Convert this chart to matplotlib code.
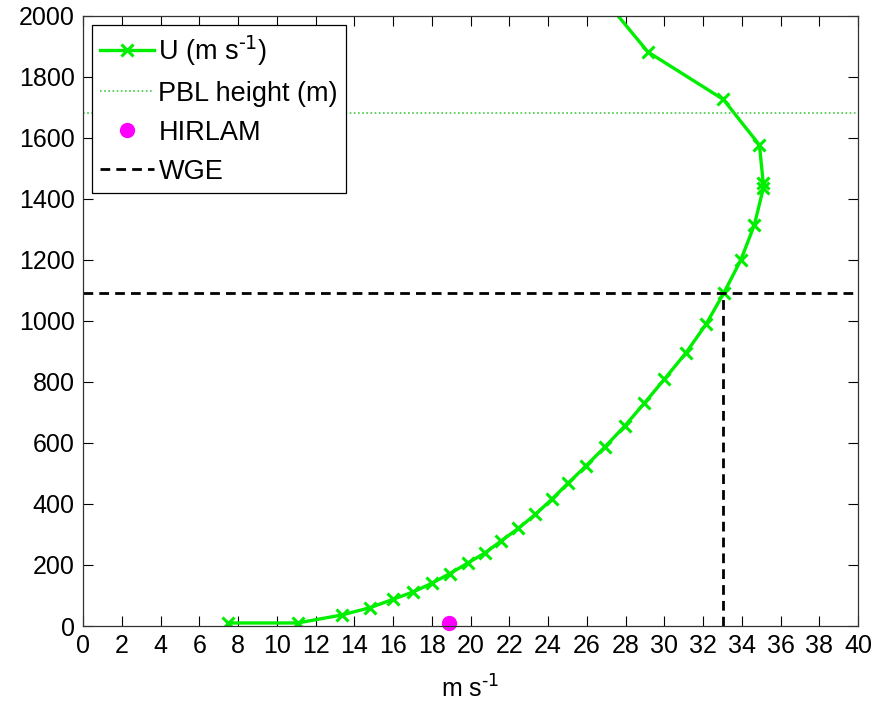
import matplotlib
matplotlib.use("Agg")
import matplotlib.pyplot as plt

plt.rcParams["font.family"] = ["Liberation Sans", "DejaVu Sans"]
plt.rcParams["mathtext.default"] = "regular"

# wind speed profile (m s-1) against height (m)
u_wind = [7.5, 11.08, 13.35, 14.81, 15.98, 17.05, 18.0, 18.94, 19.85, 20.73,
          21.57, 22.47, 23.35, 24.19, 25.02, 25.95, 26.94, 27.97, 28.97, 30.0,
          31.12, 32.15, 33.08, 33.95, 34.65, 35.11, 35.11, 34.91, 33.05, 29.15,
          27.0]
height = [10, 10, 36, 60, 87, 112, 140, 172, 206, 239,
          278, 320, 366, 415, 467, 524, 587, 656, 730, 808,
          895, 988, 1092, 1199, 1314, 1434, 1450, 1576, 1725, 1881,
          2046]

pbl_height = 1682
hirlam_u = 18.9
hirlam_z = 10
wge_u = 33.05
wge_z = 1091

x_ticks = list(range(0, 41, 2))
y_ticks = list(range(0, 2001, 200))

fig = plt.figure(figsize=(8.91, 7.06), dpi=100)
ax = fig.add_axes([0.0932, 0.1133, 0.8698, 0.8647])

ax.plot(u_wind, height, color="#00ee00", lw=2.4, marker="x", ms=8, mew=2.2,
        label=r"U (m s$^{\text{-1}}$)")
ax.axhline(pbl_height, color="#44cc44", lw=1.2, ls=(0, (1, 1.5)),
           label="PBL height (m)")
ax.plot([hirlam_u], [hirlam_z], "o", color="#ff00ff", ms=10, clip_on=False,
        label="HIRLAM")
ax.axhline(wge_z, color="black", lw=2, ls=(0, (3.5, 2.2)), label="WGE")
ax.plot([wge_u, wge_u], [0, wge_z], color="black", lw=2, ls=(0, (3.5, 2.2)))

ax.set_xlim(0, 40)
ax.set_ylim(0, 2000)
ax.set_xticks(x_ticks)
ax.set_yticks(y_ticks)
ax.tick_params(direction="in", length=7, width=0.8, top=True, right=True,
               labelsize=18, pad=6)
ax.set_xlabel(r"m s$^{\text{-1}}$", fontsize=18, labelpad=12)
for s in ax.spines.values():
    s.set_linewidth(0.9)
    s.set_color("#333333")

leg = ax.legend(loc="upper left", bbox_to_anchor=(0.0116, 0.984),
                borderaxespad=0, fontsize=19.5, numpoints=1, fancybox=False,
                framealpha=1, edgecolor="black", handlelength=2.0,
                handletextpad=0.15, labelspacing=0.48, borderpad=0.3)
leg.get_frame().set_linewidth(0.9)

fig.savefig("out.png", dpi=100)
